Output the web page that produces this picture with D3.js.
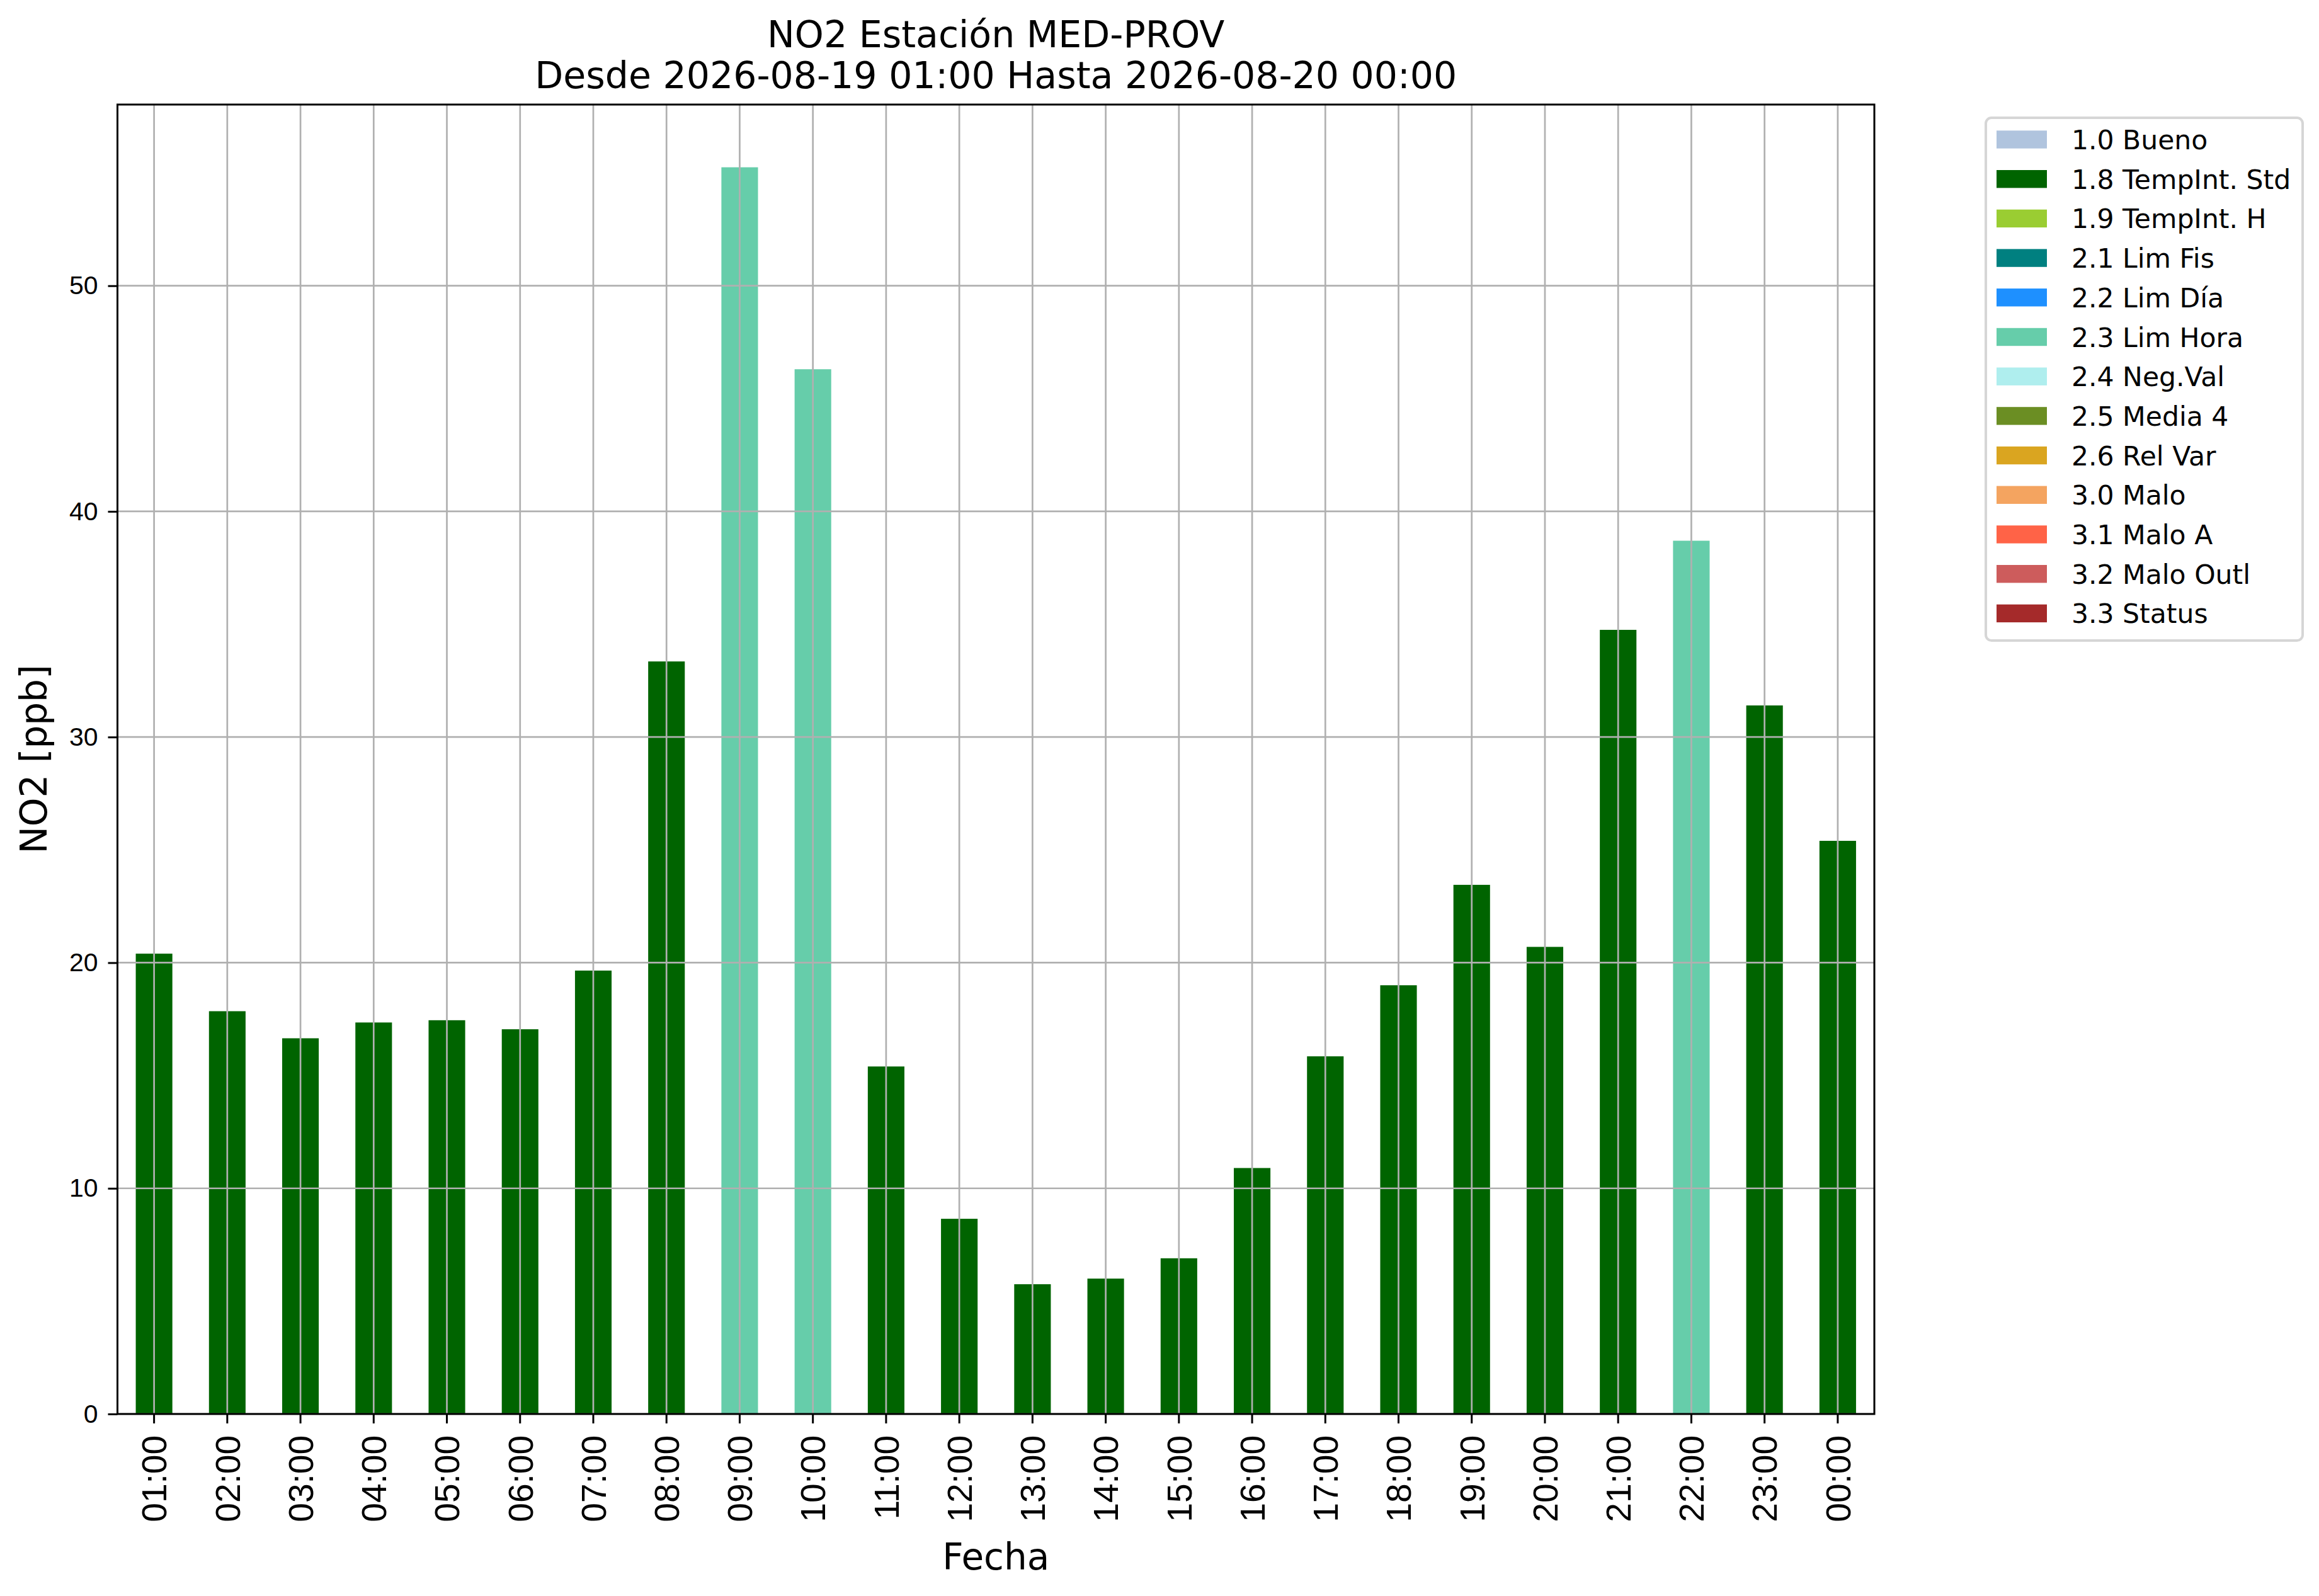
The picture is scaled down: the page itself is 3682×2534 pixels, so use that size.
<!DOCTYPE html>
<html>
<head>
<meta charset="utf-8">
<script src="https://cdn.jsdelivr.net/npm/d3@7"></script>
<style>
  html, body { margin: 0; padding: 0; background: #fff; }
  svg { display: block; font-family: "DejaVu Sans", sans-serif; }
</style>
</head>
<body>
<script>
// ---- Data ----
const hours = ["01:00","02:00","03:00","04:00","05:00","06:00","07:00","08:00","09:00","10:00","11:00","12:00",
               "13:00","14:00","15:00","16:00","17:00","18:00","19:00","20:00","21:00","22:00","23:00","00:00"];
const values = [20.4, 17.85, 16.65, 17.35, 17.45, 17.05, 19.65, 33.35, 55.25, 46.3, 15.4, 8.65,
                5.75, 6.0, 6.9, 10.9, 15.85, 19.0, 23.45, 20.7, 34.75, 38.7, 31.4, 25.4];
const flags = ["1.8","1.8","1.8","1.8","1.8","1.8","1.8","1.8","2.3","2.3","1.8","1.8",
               "1.8","1.8","1.8","1.8","1.8","1.8","1.8","1.8","1.8","2.3","1.8","1.8"];
const legendCodes = ["1.0","1.8","1.9","2.1","2.2","2.3","2.4","2.5","2.6","3.0","3.1","3.2","3.3"];
const legendLabels = ["1.0 Bueno","1.8 TempInt. Std","1.9 TempInt. H","2.1 Lim Fis","2.2 Lim Día","2.3 Lim Hora",
                      "2.4 Neg.Val","2.5 Media 4","2.6 Rel Var","3.0 Malo","3.1 Malo A","3.2 Malo Outl","3.3 Status"];
const legendColors = ["#b0c4de","#006400","#9acd32","#008080","#1e90ff","#66cdaa",
                      "#afeeee","#6b8e23","#daa520","#f4a460","#ff6347","#cd5c5c","#a52a2a"];
const yTicks = [0, 10, 20, 30, 40, 50];
const titleLines = ["NO2 Estación MED-PROV", "Desde 2026-08-19 01:00 Hasta 2026-08-20 00:00"];
const xLabel = "Fecha";
const yLabel = "NO2 [ppb]";

// ---- Layout ----
const W = 3682, H = 2534;
const plot = { left: 186.5, right: 2976, top: 166, bottom: 2245 };

const svg = d3.select("body").append("svg").attr("width", W).attr("height", H);
svg.append("rect").attr("width", W).attr("height", H).attr("fill", "#fff");

const x = d3.scaleBand().domain(hours).range([plot.left, plot.right]).paddingInner(0.5).paddingOuter(0.25);
const y = d3.scaleLinear().domain([0, 58.03]).range([plot.bottom, plot.top]);
const color = d3.scaleOrdinal().domain(legendCodes).range(legendColors);

// bars
svg.append("g").selectAll("rect").data(hours).join("rect")
  .attr("x", d => x(d))
  .attr("width", x.bandwidth())
  .attr("y", (d, i) => y(values[i]))
  .attr("height", (d, i) => y(0) - y(values[i]))
  .attr("fill", (d, i) => color(flags[i]));

// grid (drawn over bars)
const grid = svg.append("g").attr("stroke", "#b0b0b0").attr("stroke-width", 2.7);
grid.selectAll("line.v").data(hours).join("line").attr("class", "v")
  .attr("x1", d => x(d) + x.bandwidth() / 2).attr("x2", d => x(d) + x.bandwidth() / 2)
  .attr("y1", plot.top).attr("y2", plot.bottom);
grid.selectAll("line.h").data(yTicks).join("line").attr("class", "h")
  .attr("x1", plot.left).attr("x2", plot.right)
  .attr("y1", d => y(d)).attr("y2", d => y(d));

// axes
const xAxis = d3.axisBottom(x).tickSize(15).tickPadding(0);
const gx = svg.append("g").attr("transform", `translate(0,${plot.bottom})`).call(xAxis);
gx.select(".domain").remove();
gx.selectAll(".tick line").attr("stroke", "#000").attr("stroke-width", 3);
gx.selectAll(".tick text")
  .attr("font-size", 55).attr("fill", "#000")
  .attr("transform", "rotate(-90)")
  .attr("x", -34).attr("y", 0).attr("dy", "0.36em")
  .attr("text-anchor", "end");

const yAxis = d3.axisLeft(y).tickValues(yTicks).tickFormat(d3.format("d")).tickSize(15).tickPadding(16);
const gy = svg.append("g").attr("transform", `translate(${plot.left},0)`).call(yAxis);
gy.select(".domain").remove();
gy.selectAll(".tick line").attr("stroke", "#000").attr("stroke-width", 3);
gy.selectAll(".tick text").attr("font-size", 41).attr("fill", "#000");

// frame
svg.append("rect")
  .attr("x", plot.left).attr("y", plot.top)
  .attr("width", plot.right - plot.left).attr("height", plot.bottom - plot.top)
  .attr("fill", "none").attr("stroke", "#000").attr("stroke-width", 3);

// titles
const cx = (plot.left + plot.right) / 2;
svg.append("g").selectAll("text").data(titleLines).join("text")
  .attr("x", cx).attr("y", (d, i) => 75 + i * 65)
  .attr("text-anchor", "middle").attr("font-size", 58.5).attr("fill", "#000")
  .text(d => d);

svg.append("text").attr("x", cx).attr("y", 2492).attr("text-anchor", "middle")
  .attr("font-size", 58).attr("fill", "#000").text(xLabel);

svg.append("text")
  .attr("transform", `translate(74,${(plot.top + plot.bottom) / 2}) rotate(-90)`)
  .attr("text-anchor", "middle").attr("font-size", 58).attr("fill", "#000").text(yLabel);

// legend
const lg = svg.append("g");
lg.append("rect").attr("x", 3153).attr("y", 187).attr("width", 503).attr("height", 830)
  .attr("rx", 9).attr("fill", "#fff").attr("stroke", "#d6d6d6").attr("stroke-width", 4);
const rows = lg.selectAll("g.row").data(legendLabels).join("g").attr("class", "row")
  .attr("transform", (d, i) => `translate(0,${221.5 + i * 62.7})`);
rows.append("rect").attr("x", 3170).attr("y", -14.2).attr("width", 80).attr("height", 28.4)
  .attr("fill", (d, i) => legendColors[i]);
rows.append("text").attr("x", 3289).attr("y", 15.5).attr("font-size", 42.5).attr("fill", "#000")
  .text(d => d);
</script>
</body>
</html>
